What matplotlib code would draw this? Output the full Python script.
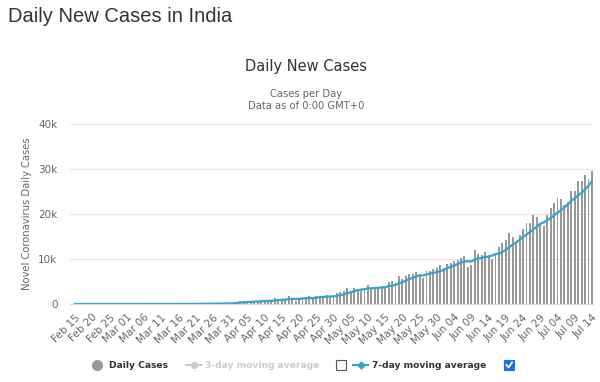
import numpy as np
import pandas as pd
import matplotlib
matplotlib.use('Agg')
import matplotlib.pyplot as plt
from matplotlib.lines import Line2D
from matplotlib.patches import Rectangle


# daily new cases, Feb 15 .. Jul 14 (2020)
start_date = '2020-02-15'
cases_feb = [0]*16    # Feb 15 .. Mar 01
cases_mar = [2, 1, 22, 2, 1, 3, 5, 4, 13, 6, 11, 9, 20, 11, 6, 23, 14, 38,
             50, 86, 66, 103, 37, 121, 70, 160, 100, 78, 227, 146]
cases_apr = [424, 486, 560, 579, 609, 484, 573, 565, 813, 871, 854, 758,
             1243, 1031, 886, 1061, 1850, 1100, 700, 1300, 1537, 1292, 1667,
             1408, 1835, 1607, 1568, 1902, 1705, 1801]
cases_may = [2396, 2564, 2952, 3656, 2971, 3602, 3344, 3339, 3175, 4311,
             3592, 3562, 3726, 3991, 3808, 4794, 5049, 4630, 6147, 5553,
             6198, 6568, 6629, 7111, 6414, 5843, 7293, 7300, 7800, 7900, 8600]
cases_jun = [8100, 8900, 9100, 9600, 9800, 10200, 10600, 8300, 8600, 12100,
             11100, 10900, 11600, 10900, 10100, 11100, 12700, 13600, 14300,
             15700, 14900, 13500, 15300, 16600, 17900, 17900, 19700, 19400,
             18000, 17400]
cases_jul = [19800, 21300, 22400, 23600, 23400, 22000, 22600, 25200, 25100,
             27300, 27400, 28700, 27800, 29600]

# 7-day moving average as shown by the blue line
avg_feb = [0]*16
avg_mar = [0, 0, 4, 4, 4, 4, 5, 5, 7, 5, 6, 7, 10, 11, 11, 12, 13, 17, 23,
           33, 40, 54, 56, 72, 76, 92, 94, 96, 113, 129]
avg_apr = [172, 232, 289, 357, 433, 470, 531, 551, 598, 642, 681, 703, 811,
           876, 922, 958, 1098, 1133, 1124, 1133, 1205, 1263, 1349, 1286,
           1391, 1521, 1559, 1611, 1670, 1689]
avg_may = [1831, 1935, 2127, 2425, 2578, 2849, 3069, 3204, 3291, 3485, 3476,
           3561, 3578, 3671, 3738, 3969, 4075, 4223, 4592, 4853, 5168, 5563,
           5825, 6119, 6374, 6331, 6579, 6737, 6913, 7094, 7307]
avg_jun = [7548, 7985, 8243, 8571, 8857, 9186, 9471, 9500, 9457, 9886, 10100,
           10257, 10457, 10500, 10757, 11114, 11200, 11557, 12043, 12629,
           13200, 13686, 14286, 14843, 15457, 15971, 16543, 17186, 17829,
           18129]
avg_jul = [18586, 19071, 19714, 20271, 20843, 21414, 22157, 22929, 23471,
           24171, 24714, 25471, 26300, 27300]

yticks = [0, 10000, 20000, 30000, 40000]
ytick_labels = ['0', '10k', '20k', '30k', '40k']

daily = np.array(cases_feb + cases_mar + cases_apr + cases_may + cases_jun + cases_jul)
avg7 = np.array(avg_feb + avg_mar + avg_apr + avg_may + avg_jun + avg_jul)
dates = pd.date_range(start_date, periods=len(daily))
labels = [d.strftime('%b %d') for d in dates]
x = np.arange(len(daily))

W, H = 600, 382


def px(xp, yp):
    """ pixel position (from top left) to figure fraction """
    return xp/W, 1.0 - yp/H


fig = plt.figure(figsize=(W/100, H/100), dpi=100)
fig.patch.set_facecolor('white')

# plot area in pixels: left 70, right 593, top 124, bottom 304
ax = fig.add_axes([70/W, 1 - 304/H, 523/W, 180/H])
ax.bar(x, daily, width=0.55, color='#999999', zorder=2)
ax.plot(x, avg7, color='#33a3d1', lw=1.6, zorder=3)
ax.set_xlim(-1.45, len(daily) - 0.7)
ax.set_ylim(0, 40000)

ax.set_yticks(yticks)
ax.set_yticklabels(ytick_labels)
ax.grid(axis='y', color='#e6e6e6', lw=0.8, zorder=0)
ax.set_xticks(x[::5])
ax.set_xticklabels(labels[::5], rotation=45, ha='right', rotation_mode='anchor')
ax.tick_params(axis='both', length=0, colors='#666666', labelsize=7.5)
ax.tick_params(axis='y', pad=9)
ax.tick_params(axis='x', pad=6)
for s in ['top', 'right', 'left']:
    ax.spines[s].set_visible(False)
ax.spines['bottom'].set_color('#ccd6eb')
ax.spines['bottom'].set_linewidth(0.8)
ax.spines['bottom'].set_zorder(4)

# titles
fig.text(*px(8, 16), 'Daily New Cases in India', family='Liberation Sans',
         fontsize=14.5, color='#333333', va='center', ha='left')
fig.text(*px(306, 67), 'Daily New Cases', fontsize=10.5, color='#333333',
         va='center', ha='center')
fig.text(*px(306, 94), 'Cases per Day', fontsize=7.2, color='#666666',
         va='center', ha='center')
fig.text(*px(306, 106), 'Data as of 0:00 GMT+0', fontsize=7.2, color='#666666',
         va='center', ha='center')
fig.text(*px(27, 214), 'Novel Coronavirus Daily Cases', fontsize=7.2,
         color='#666666', rotation=90, va='center', ha='center')

# legend with its checkboxes
ly = 365
lfs = 6.6
fig.add_artist(Line2D([px(97, ly)[0]], [px(97, ly)[1]], marker='o', ms=7,
                      color='#999999', transform=fig.transFigure))
fig.text(*px(109, ly), 'Daily Cases', fontsize=lfs, fontweight='bold',
         color='#333333', va='center')
x0, y0 = px(186, ly)
x1, _ = px(201, ly)
fig.add_artist(Line2D([x0, x1], [y0, y0], color='#cccccc', lw=1.5,
                      transform=fig.transFigure))
fig.add_artist(Line2D([(x0 + x1)/2], [y0], marker='o', ms=4, color='#cccccc',
                      transform=fig.transFigure))
fig.text(*px(205, ly), '3-day moving average', fontsize=lfs, fontweight='bold',
         color='#cccccc', va='center')
bx, by = px(336, ly + 5)
fig.add_artist(Rectangle((bx, by), 10/W, 10/H, facecolor='white',
                         edgecolor='#555555', lw=0.8, transform=fig.transFigure))
x0, y0 = px(353, ly)
x1, _ = px(368, ly)
fig.add_artist(Line2D([x0, x1], [y0, y0], color='#33a3d1', lw=1.5,
                      transform=fig.transFigure))
fig.add_artist(Line2D([(x0 + x1)/2], [y0], marker='D', ms=3.5, color='#33a3d1',
                      transform=fig.transFigure))
fig.text(*px(372, ly), '7-day moving average', fontsize=lfs, fontweight='bold',
         color='#333333', va='center')
bx, by = px(504, ly + 5)
fig.add_artist(Rectangle((bx, by), 10/W, 10/H, facecolor='#1a73e8',
                         edgecolor='#1a73e8', lw=0.8, transform=fig.transFigure))
cx = [px(506.5, ly)[0], px(508.5, ly + 2.5)[0], px(512, ly - 2.5)[0]]
cy = [px(506.5, ly)[1], px(508.5, ly + 2.5)[1], px(512, ly - 2.5)[1]]
fig.add_artist(Line2D(cx, cy, color='white', lw=1.3, transform=fig.transFigure))

fig.savefig('out.png', dpi=100)
